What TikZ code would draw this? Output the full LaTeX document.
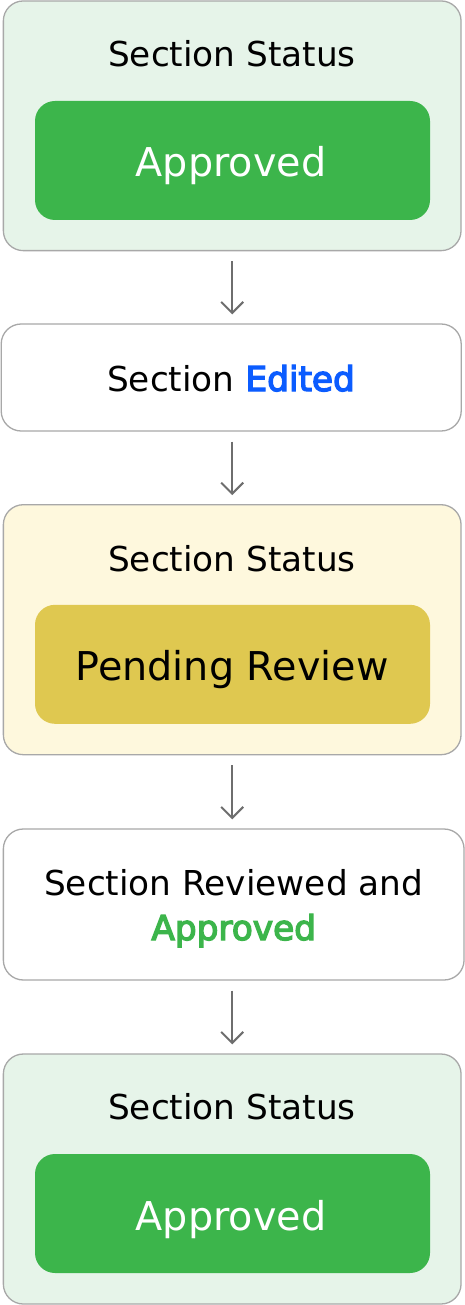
\documentclass[tikz,border=0pt]{standalone}
\usepackage{fontspec}
\setmainfont{DejaVu Sans}
\newfontface\semibold[FakeBold=4]{DejaVu Sans}
\usetikzlibrary{arrows.meta}
\definecolor{greenbg}{HTML}{E6F4E9}
\definecolor{greenfg}{HTML}{3CB54B}
\definecolor{yellowbg}{HTML}{FEF8DD}
\definecolor{yellowfg}{HTML}{DFC850}
\definecolor{bordergrey}{HTML}{A8A8A8}
\definecolor{arrowgrey}{HTML}{6E6E6E}
\definecolor{editblue}{HTML}{0B5CFF}
\begin{document}
\begin{tikzpicture}[x=1pt,y=-1pt,
  outerbox/.style={draw=bordergrey, line width=1.3pt, rounded corners=20pt, inner sep=0pt},
  innerbox/.style={rounded corners=20pt, inner sep=0pt, minimum width=395pt, minimum height=119pt},
  titletext/.style={anchor=base, font=\fontsize{34.3}{41}\selectfont, text=black, inner sep=0pt},
  badgetext/.style={anchor=base, font=\fontsize{39.7}{48}\selectfont, inner sep=0pt},
  conn/.style={draw=arrowgrey, line width=2pt, -{Straight Barb[length=11pt,width=22pt,line width=2pt]}, shorten <=10pt, shorten >=9pt}
]
\useasboundingbox (0,0) rectangle (465,1305);
% box 1
\node[outerbox, fill=greenbg, minimum width=457.7pt, minimum height=249.7pt] (s1) at (232.2,125.8) {};
\node[titletext] (t1) at (232,67) {Section Status};
\node[innerbox, fill=greenfg] (b1) at (232.5,160.5) {};
\node[badgetext, text=white] (l1) at (231,176.7) {Approved};
% box 2
\node[outerbox, fill=white, minimum width=460pt, minimum height=107pt] (s2) at (231.2,377.5) {};
\node[titletext] (t2) at (231,391) {Section \textcolor{editblue}{\semibold Edited}};
% box 3
\node[outerbox, fill=yellowbg, minimum width=457.7pt, minimum height=250pt] (s3) at (232.2,629.7) {};
\node[titletext] (t3) at (232,571.7) {Section Status};
\node[innerbox, fill=yellowfg] (b3) at (232.5,664.3) {};
\node[badgetext, text=black] (l3) at (232,680) {Pending Review};
% box 4
\node[outerbox, fill=white, minimum width=460.7pt, minimum height=151pt] (s4) at (233.7,904.5) {};
\node[titletext] (t4) at (233.7,895) {Section Reviewed and};
\node[titletext, text=greenfg, font=\fontsize{34.3}{41}\selectfont\semibold] (t4b) at (233.7,940) {Approved};
% box 5
\node[outerbox, fill=greenbg, minimum width=457.7pt, minimum height=250pt] (s5) at (232.2,1179) {};
\node[titletext] (t5) at (232,1119) {Section Status};
\node[innerbox, fill=greenfg] (b5) at (232.5,1213.5) {};
\node[badgetext, text=white] (l5) at (231,1230) {Approved};
% connectors
\draw[conn] (s1.south) -- (s1.south |- s2.north);
\draw[conn] (s2.south -| s1.south) -- (s1.south |- s3.north);
\draw[conn] (s3.south) -- (s3.south |- s4.north);
\draw[conn] (s4.south -| s1.south) -- (s1.south |- s5.north);
\end{tikzpicture}
\end{document}
